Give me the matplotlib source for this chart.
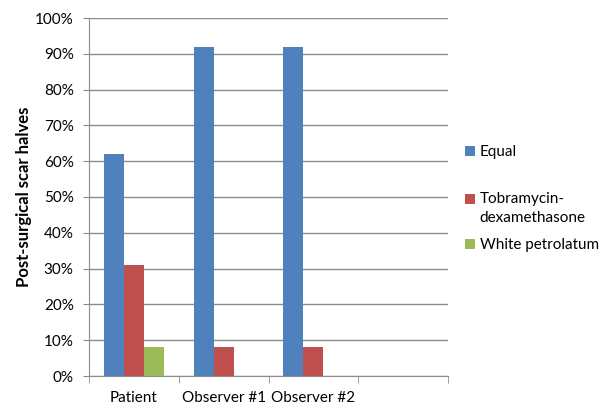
import matplotlib
matplotlib.use('Agg')
import matplotlib.pyplot as plt
import numpy as np
from matplotlib.patches import Rectangle
from matplotlib.legend import Legend
from matplotlib.legend_handler import HandlerPatch

plt.rcParams['font.family'] = ['Lato', 'DejaVu Sans']

categories = ['Patient', 'Observer #1', 'Observer #2', '']
series = ['Equal', 'Tobramycin-\ndexamethasone', 'White petrolatum']
equal = [62, 92, 92, 0]
tobra = [31, 8, 8, 0]
white = [8, 0, 0, 0]
colors = ['#4F81BD', '#C0504D', '#9BBB59']
yticks = [0, 10, 20, 30, 40, 50, 60, 70, 80, 90, 100]

fig = plt.figure(figsize=(6.12, 4.08), dpi=100)
ax = fig.add_axes([89/612, 1-376/408, (448-89)/612, (376-18)/408])

x = np.arange(len(categories))
w = 0.223
bars = []
for i, (vals, lab, c) in enumerate(zip([equal, tobra, white], series, colors)):
    bars.append(ax.bar(x + (i-1)*w, vals, w, color=c, label=lab, zorder=3))

ax.set_xlim(-0.5, 3.5)
ax.set_ylim(0, 100)
ax.set_yticks(yticks)
ax.set_yticklabels([f'{v}%' for v in yticks], fontsize=11)
ax.yaxis.grid(True, color='#8c8c8c', linewidth=1, zorder=0)
ax.set_xticks(x)
ax.set_xticklabels(categories, fontsize=11)
ax.set_xticks(np.arange(-0.5, 4, 1), minor=True)
ax.tick_params(axis='x', which='major', length=0, pad=11)
ax.tick_params(axis='x', which='minor', length=5, color='#8c8c8c')
ax.tick_params(axis='y', length=4, color='#8c8c8c', pad=7)
for s in ['top', 'right']:
    ax.spines[s].set_visible(False)
for s in ['left', 'bottom']:
    ax.spines[s].set_color('#8c8c8c')
ax.set_ylabel('Post-surgical scar halves', fontsize=12, fontweight='bold', labelpad=2)


# handle for the two-line entry sits at the first line, like Excel
def top_patch(legend, orig_handle, xdescent, ydescent, width, height, fontsize):
    return Rectangle((-xdescent, -ydescent + 6.8), width, height)


leg_y = [152, 208.5, 245]
for i, (b, lab) in enumerate(zip(bars, series)):
    h = b.patches[0]
    hm = {h: HandlerPatch(patch_func=top_patch)} if '\n' in lab else None
    leg = Legend(ax, [h], [lab], loc='center left',
                 bbox_to_anchor=(465/612, 1-leg_y[i]/408),
                 bbox_transform=fig.transFigure, frameon=False, fontsize=11,
                 handlelength=0.65, handleheight=0.65, handletextpad=0.3,
                 borderpad=0, borderaxespad=0, handler_map=hm)
    for t in leg.get_texts():
        t.set_linespacing(1.4)
    ax.add_artist(leg)

plt.savefig('out.png', dpi=100)
